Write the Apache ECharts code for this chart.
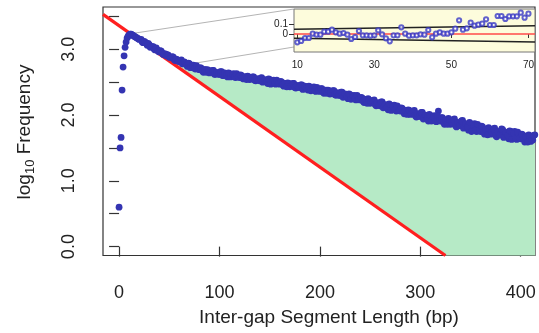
<!DOCTYPE html>
<html><head><meta charset="utf-8">
<script src="https://cdn.jsdelivr.net/npm/echarts@6/dist/echarts.min.js"></script>
<style>html,body{margin:0;padding:0;background:#fff}#c{width:539px;height:333px}</style>
</head><body><div id="c"></div>
<script>
// ---- data ----
const earlyLengths = [0,1,2,3,4,5,6,7,8,9,10,11,12,13,14,15,16,17,18,19,20];
const earlyLogFreq = [0.60,1.50,1.66,2.38,2.73,2.90,3.03,3.11,3.17,3.20,3.22,3.23,3.23,3.22,3.21,3.20,3.19,3.18,3.17,3.16,3.15];
const evenStart = 22, bodyStep = 2; // lengths 22,24,...,414
const evenLogFreq = [
 3.15,3.10,3.11,3.06,3.07,3.04,3.04,2.99,2.99,2.96,
 2.97,2.92,2.93,2.92,2.88,2.87,2.88,2.83,2.84,2.81,
 2.84,2.78,2.79,2.74,2.78,2.74,2.76,2.70,2.72,2.69,
 2.71,2.65,2.69,2.69,2.64,2.65,2.68,2.62,2.64,2.62,
 2.66,2.60,2.63,2.58,2.63,2.60,2.63,2.57,2.60,2.57,
 2.60,2.55,2.58,2.59,2.54,2.55,2.58,2.52,2.55,2.52,
 2.57,2.51,2.53,2.48,2.54,2.50,2.53,2.47,2.49,2.47,
 2.50,2.44,2.48,2.49,2.43,2.44,2.48,2.41,2.44,2.42,
 2.46,2.40,2.43,2.38,2.43,2.39,2.43,2.36,2.39,2.36,
 2.40,2.33,2.38,2.38,2.32,2.33,2.37,2.30,2.33,2.30,
 2.35,2.28,2.31,2.25,2.31,2.27,2.30,2.23,2.26,2.23,
 2.26,2.19,2.24,2.25,2.18,2.19,2.23,2.14,2.18,2.14,
 2.20,2.12,2.15,2.08,2.15,2.10,2.15,2.06,2.09,2.06,
 2.10,2.02,2.07,2.08,2.01,2.02,2.07,1.97,2.01,1.98,
 2.04,1.95,1.99,1.91,1.99,1.94,1.99,1.90,2.06,1.91,
 1.96,1.86,1.93,1.95,1.86,1.87,1.94,1.82,1.88,1.84,
 1.92,1.81,1.86,1.77,1.87,1.80,1.87,1.75,1.80,1.75,
 1.82,1.71,1.79,1.81,1.71,1.72,1.80,1.67,1.74,1.70,
 1.78,1.68,1.73,1.64,1.75,1.68,1.75,1.63,1.68,1.64,
 1.70,1.59,1.68,1.70,1.60,1.62,1.70
];
const oddStart = 23; // lengths 23,25,...,413
const oddLogFreq = [
 3.11,3.12,3.09,3.09,3.03,3.04,3.00,3.02,2.97,2.98,
 2.94,2.93,2.90,2.91,2.88,2.89,2.84,2.85,2.82,2.83,
 2.78,2.81,2.77,2.79,2.72,2.75,2.71,2.75,2.70,2.72,
 2.67,2.69,2.65,2.68,2.65,2.68,2.62,2.65,2.62,2.66,
 2.60,2.64,2.61,2.64,2.58,2.62,2.58,2.63,2.58,2.61,
 2.56,2.58,2.54,2.58,2.56,2.58,2.53,2.55,2.53,2.56,
 2.50,2.54,2.51,2.55,2.47,2.52,2.48,2.53,2.48,2.51,
 2.46,2.48,2.43,2.48,2.45,2.48,2.42,2.45,2.42,2.46,
 2.39,2.44,2.41,2.44,2.37,2.41,2.37,2.42,2.37,2.40,
 2.35,2.37,2.33,2.37,2.34,2.37,2.31,2.34,2.30,2.35,
 2.27,2.32,2.28,2.32,2.24,2.29,2.24,2.30,2.24,2.27,
 2.21,2.24,2.18,2.23,2.20,2.22,2.16,2.19,2.15,2.20,
 2.11,2.16,2.12,2.17,2.07,2.13,2.08,2.14,2.07,2.11,
 2.05,2.07,2.01,2.07,2.03,2.06,1.99,2.02,1.98,2.04,
 1.94,2.00,1.96,2.01,1.91,1.97,1.91,1.99,1.92,1.96,
 1.89,1.92,1.86,1.93,1.89,1.93,1.84,1.89,1.84,1.91,
 1.80,1.87,1.82,1.89,1.75,1.84,1.77,1.86,1.77,1.83,
 1.74,1.78,1.70,1.79,1.74,1.79,1.69,1.75,1.70,1.79,
 1.66,1.74,1.69,1.76,1.63,1.72,1.65,1.74,1.65,1.71,
 1.63,1.67,1.59,1.68,1.63,1.69
];
const xTicks = [0,100,200,300,400];
const yTicks = [0,0.5,1,1.5,2,2.5,3,3.5];
const yLabelValues = [0,1,2,3];
const redLine = [[-16,3.53],[325,-0.135]];
const greenTopX = [35,50,60,70,80,100,130,165,200,230,260,290,320,356,390,414.2];
const greenTopY = [2.98,2.855,2.785,2.725,2.665,2.595,2.525,2.435,2.345,2.245,2.125,2.005,1.89,1.75,1.65,1.58];
const greenBottom = [[414.2,-0.135],[325,-0.135]];

const insetLengths = [10,11,12,13,14,15,16,17,18,19,20,21,22,23,24,25,26,27,28,29,30,31,32,33,34,35,36,37,38,39,40,41,42,43,44,45,46,47,48,49,50,51,52,53,54,55,56,57,58,59,60,61,62,63,64,65,66,67,68,69,70];
const insetResid = [-0.083,-0.07,-0.04,-0.04,0.003,-0.007,-0.007,0.023,0.023,0.043,0.017,0.003,0.01,-0.007,-0.05,-0.03,0.03,-0.013,-0.013,-0.017,-0.013,0.037,-0.003,-0.043,-0.073,-0.013,-0.013,0.067,0.003,-0.017,-0.013,-0.013,-0.003,-0.007,0.04,-0.033,0.003,0.017,0.003,0.003,0.017,0.053,0.137,0.043,0.057,0.113,0.083,0.093,0.103,0.147,0.09,0.09,0.18,0.18,0.15,0.177,0.177,0.177,0.213,0.163,0.203];
const insetUpper = [[9.14,0.047],[71.7,0.083]];
const insetLower = [[9.14,-0.043],[71.7,-0.08]];
const insetZero = [[9.14,0],[71.7,0]];
const insetXTicks = [10,30,50,70];
const insetYTicks = [0,0.1];
const connectTop = {main:[13,3.24], inset:[9.14,0.25]};
const connectBottom = {main:[76,2.79], inset:[9.14,-0.13]};

// ---- build ----
const mainPoints = earlyLengths.map((x,i)=>[x,earlyLogFreq[i]])
  .concat(evenLogFreq.map((v,i)=>[evenStart+i*bodyStep, v]))
  .concat(oddLogFreq.map((v,i)=>[oddStart+i*bodyStep, v]));
const greenPoly = greenTopX.map((x,i)=>[x,greenTopY[i]]).concat(greenBottom);
const insetPoints = insetLengths.map((x,i)=>[x,insetResid[i]]);

const FONT = 'Liberation Sans, Arial, Helvetica, sans-serif';
const chart = echarts.init(document.getElementById('c'), null, {renderer:'canvas'});
const option = {
  animation:false,
  backgroundColor:'#fff',
  grid:[
    {left:103, top:7, right:4, bottom:77.5, show:true, borderColor:'#333', borderWidth:1.2, backgroundColor:'transparent', z:1},
    {left:294, top:9, width:241, height:43, show:true, borderColor:'#777', borderWidth:1, backgroundColor:'#fdfcdc', z:5}
  ],
  xAxis:[
    {type:'value', gridIndex:0, min:-16, max:414.2, splitLine:{show:false},
     axisLine:{show:false},
     axisTick:{show:true, length:10, customValues:xTicks, lineStyle:{color:'#333', width:1.2}},
     axisLabel:{customValues:xTicks, margin:29, fontSize:18, color:'#222', fontFamily:FONT}},
    {type:'value', gridIndex:1, min:9.14, max:71.7, splitLine:{show:false},
     axisLine:{show:false},
     axisTick:{show:true, length:4, customValues:insetXTicks, lineStyle:{color:'#333'}},
     axisLabel:{customValues:insetXTicks, margin:8, fontSize:10, color:'#222', fontFamily:FONT}, z:6}
  ],
  yAxis:[
    {type:'value', gridIndex:0, min:-0.135, max:3.643, splitLine:{show:false},
     axisLine:{show:false},
     axisTick:{show:true, length:10, customValues:yTicks, lineStyle:{color:'#333', width:1.2}},
     axisLabel:{customValues:yLabelValues, rotate:90, margin:25, fontSize:18, color:'#222', fontFamily:FONT,
       formatter:v=>Number(v).toFixed(1)}},
    {type:'value', gridIndex:1, min:-0.18, max:0.25, splitLine:{show:false},
     axisLine:{show:false},
     axisTick:{show:true, length:5, customValues:insetYTicks, lineStyle:{color:'#333'}},
     axisLabel:{customValues:insetYTicks, margin:6, fontSize:10, color:'#222', fontFamily:FONT}, z:6}
  ],
  series:[
    {type:'custom', xAxisIndex:0, yAxisIndex:0, z:2, silent:true,
     data:[0],
     renderItem:(params, api)=>({
       type:'polygon',
       shape:{points: greenPoly.map(p=>api.coord(p))},
       style:{fill:'#b6eac6', stroke:null}
     })},
    {type:'line', xAxisIndex:0, yAxisIndex:0, z:3, data:redLine, symbol:'none',
     lineStyle:{color:'#ff1f1f', width:3.2}},
    {type:'scatter', xAxisIndex:0, yAxisIndex:0, z:4, data:mainPoints, symbolSize:6.8,
     itemStyle:{color:'#3434b2', opacity:1}},
    {type:'line', xAxisIndex:1, yAxisIndex:1, z:6, data:insetZero, symbol:'none',
     lineStyle:{color:'#ff4a4a', width:1.5}},
    {type:'line', xAxisIndex:1, yAxisIndex:1, z:6, data:insetUpper, symbol:'none',
     lineStyle:{color:'#222', width:1.4}},
    {type:'line', xAxisIndex:1, yAxisIndex:1, z:6, data:insetLower, symbol:'none',
     lineStyle:{color:'#222', width:1.4}},
    {type:'scatter', xAxisIndex:1, yAxisIndex:1, z:7, data:insetPoints, symbol:'emptyCircle', symbolSize:4.2,
     itemStyle:{color:'#3a3ac4', borderColor:'#3a3ac4', borderWidth:1.2}}
  ]
};
chart.setOption(option);

function px(gridIndex, v){ return chart.convertToPixel({gridIndex:gridIndex}, v); }
const t1 = px(0, connectTop.main), t2 = px(1, connectTop.inset);
const b1 = px(0, connectBottom.main), b2 = px(1, connectBottom.inset);
chart.setOption({
  graphic:[
    {type:'line', z:3, shape:{x1:t1[0], y1:t1[1], x2:t2[0], y2:t2[1]}, style:{stroke:'#b4b4b4', lineWidth:1}},
    {type:'line', z:3, shape:{x1:b1[0], y1:b1[1], x2:b2[0], y2:b2[1]}, style:{stroke:'#b4b4b4', lineWidth:1}},
    {type:'text', x:25, y:132, rotation:Math.PI/2, z:10,
     style:{text:'{a|log}{s|10}{a| Frequency}', align:'center', verticalAlign:'middle', fill:'#222',
       rich:{a:{fontSize:19, fontFamily:FONT, lineHeight:24, fill:'#222'},
             s:{fontSize:13, fontFamily:FONT, lineHeight:13, verticalAlign:'bottom', fill:'#222'}}}},
    {type:'text', x:329, y:318, z:10,
     style:{text:'Inter-gap Segment Length (bp)', align:'center', verticalAlign:'middle', fontSize:19, fontFamily:FONT, fill:'#222'}}
  ]
});
</script></body></html>
